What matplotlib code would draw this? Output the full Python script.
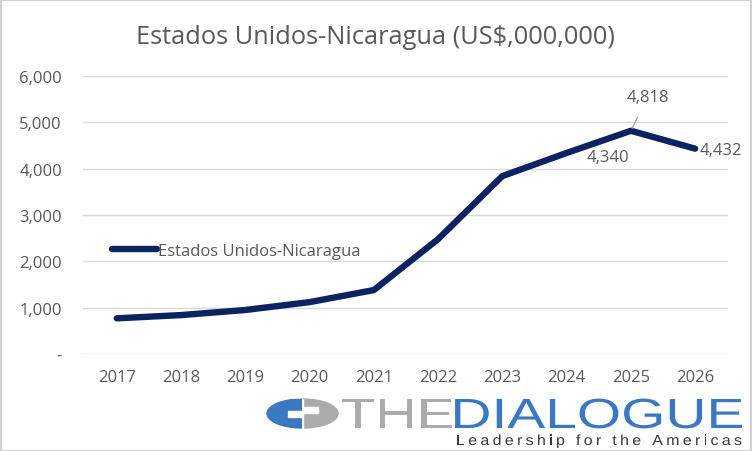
import matplotlib
matplotlib.use("Agg")
import matplotlib.pyplot as plt
from matplotlib.patches import Rectangle, Ellipse, PathPatch
from matplotlib.textpath import TextPath, TextToPath
from matplotlib.font_manager import FontProperties
from matplotlib.transforms import Affine2D
from matplotlib.ticker import FuncFormatter

years = [2017, 2018, 2019, 2020, 2021, 2022, 2023, 2024, 2025, 2026]
values = [770, 840, 950, 1120, 1380, 2480, 3840, 4340, 4818, 4432]
series_name = "Estados Unidos-Nicaragua"
title = "Estados Unidos-Nicaragua (US$,000,000)"

FONT = ["Open Sans", "DejaVu Sans"]
plt.rcParams['font.family'] = FONT
GRAY = "#595959"
NAVY = "#0b2360"
W, H = 752, 452

fig = plt.figure(figsize=(7.52, 4.52), dpi=100)
ax = fig.add_axes([0.110, 0.2146, 0.858, 0.615])

ax.plot(years, values, color=NAVY, lw=4.6, solid_capstyle='round',
        solid_joinstyle='round', label=series_name)
ax.set_xlim(2016.47, 2026.51)
ax.set_ylim(0, 6000)
ax.set_yticks(range(0, 6001, 1000))
ax.yaxis.set_major_formatter(FuncFormatter(lambda v, p: "-" if v == 0 else f"{int(v):,}"))
ax.set_xticks(years)
ax.grid(axis='y', color="#d9d9d9", lw=1)
ax.set_axisbelow(True)
for s in ax.spines.values():
    s.set_visible(False)
ax.tick_params(length=0, colors=GRAY, labelsize=12)
ax.tick_params(axis='y', pad=15)
ax.tick_params(axis='x', pad=11)

# data labels
ax.annotate(f"{values[7]:,}", (years[7], values[7]), xytext=(29.5, -3),
            textcoords='offset points', ha='center', va='center',
            fontsize=12, color=GRAY)
ax.annotate(f"{values[8]:,}", (years[8], values[8]), xytext=(12, 24.5),
            textcoords='offset points', ha='center', va='center',
            fontsize=12, color=GRAY,
            arrowprops=dict(arrowstyle='-', color="#a6a6a6", lw=1,
                            shrinkA=8, shrinkB=2))
ax.annotate(f"{values[9]:,}", (years[9], values[9]), xytext=(3, -1),
            textcoords='offset points', ha='left', va='center',
            fontsize=12, color=GRAY)

leg = ax.legend(loc='center left', bbox_to_anchor=(0.045, 0.370), frameon=False,
                fontsize=12, handlelength=2.7, handletextpad=0.05,
                borderaxespad=0, borderpad=0)
for t in leg.get_texts():
    t.set_color(GRAY)

fig.text(0.499, 0.918, title, ha='center', va='center', fontsize=18.3, color=GRAY)

# ---- logo ----
BLUE = "#3a78c2"
LGRAY = "#ababab"
px = Affine2D().scale(1 / W, 1 / H) + fig.transFigure  # pixel coords, origin bottom-left


def Y(y):
    return H - y


cx, cy = 302, 414.5
fig.patches.append(Ellipse((cx + 1, Y(cy)), 70, 29, transform=px, color=LGRAY))
fig.patches.append(Rectangle((cx - 36, Y(cy) - 15), 36.5, 30, transform=px, color="white"))
blue = Ellipse((cx, Y(cy)), 70, 29, transform=px, color=BLUE)
fig.patches.append(blue)
blue.set_clip_path(Rectangle((cx - 36, Y(cy) - 15), 36, 30, transform=px))
fig.patches.append(Rectangle((cx - 14, Y(cy) - 3), 14, 6, transform=px, color="white"))
fig.patches.append(Rectangle((cx + 1, Y(cy) + 1), 15, 6, transform=px, color="white"))

fp = FontProperties(family=["Liberation Sans", "DejaVu Sans"], size=100)
CAP = TextPath((0, 0), "H", size=100, prop=fp).get_extents().y1


def stretched(text, x0, x1, baseline, cap_px, color):
    p = TextPath((0, 0), text, size=100, prop=fp)
    ext = p.get_extents()
    sy = cap_px / CAP
    sx = (x1 - x0) / ext.width
    tr = Affine2D().translate(-ext.x0, 0).scale(sx, sy).translate(x0, Y(baseline)) + px
    fig.patches.append(PathPatch(p, transform=tr, color=color, lw=0))


def spaced(text, x0, x1, baseline, cap_px, color, sx_extra=1.0):
    s = cap_px / CAP
    t2p = TextToPath()
    adv = [t2p.get_text_width_height_descent(c, fp, ismath=False)[0] * s * sx_extra
           for c in text]
    natural = sum(adv)
    gap = (x1 - x0 - natural) / (len(text) - 1)
    x = x0
    for c, a in zip(text, adv):
        if c != " ":
            p = TextPath((0, 0), c, size=100, prop=fp)
            tr = Affine2D().scale(s * sx_extra, s).translate(x, Y(baseline)) + px
            fig.patches.append(PathPatch(p, transform=tr, color=color, lw=0))
        x += a + gap


# "THE" + "DIALOGUE"
pt = TextPath((0, 0), "THE", size=100, prop=fp).get_extents()
pd = TextPath((0, 0), "DIALOGUE", size=100, prop=fp).get_extents()
total = 742 - 342 - 3
wthe = total * pt.width / (pt.width + pd.width)
stretched("THE", 342, 342 + wthe, 429, 29, LGRAY)
stretched("DIALOGUE", 342 + wthe + 3, 742, 429, 29, BLUE)
spaced("Leadership for the Americas", 456, 742, 446, 10, "#3a3a3a", sx_extra=1.1)

fig.patches.append(Rectangle((0.5, 0.5), W - 1.5, H - 1.5, transform=px,
                             fill=False, edgecolor="#d0d0d0", lw=1.6))

fig.savefig("out.png", dpi=100)
